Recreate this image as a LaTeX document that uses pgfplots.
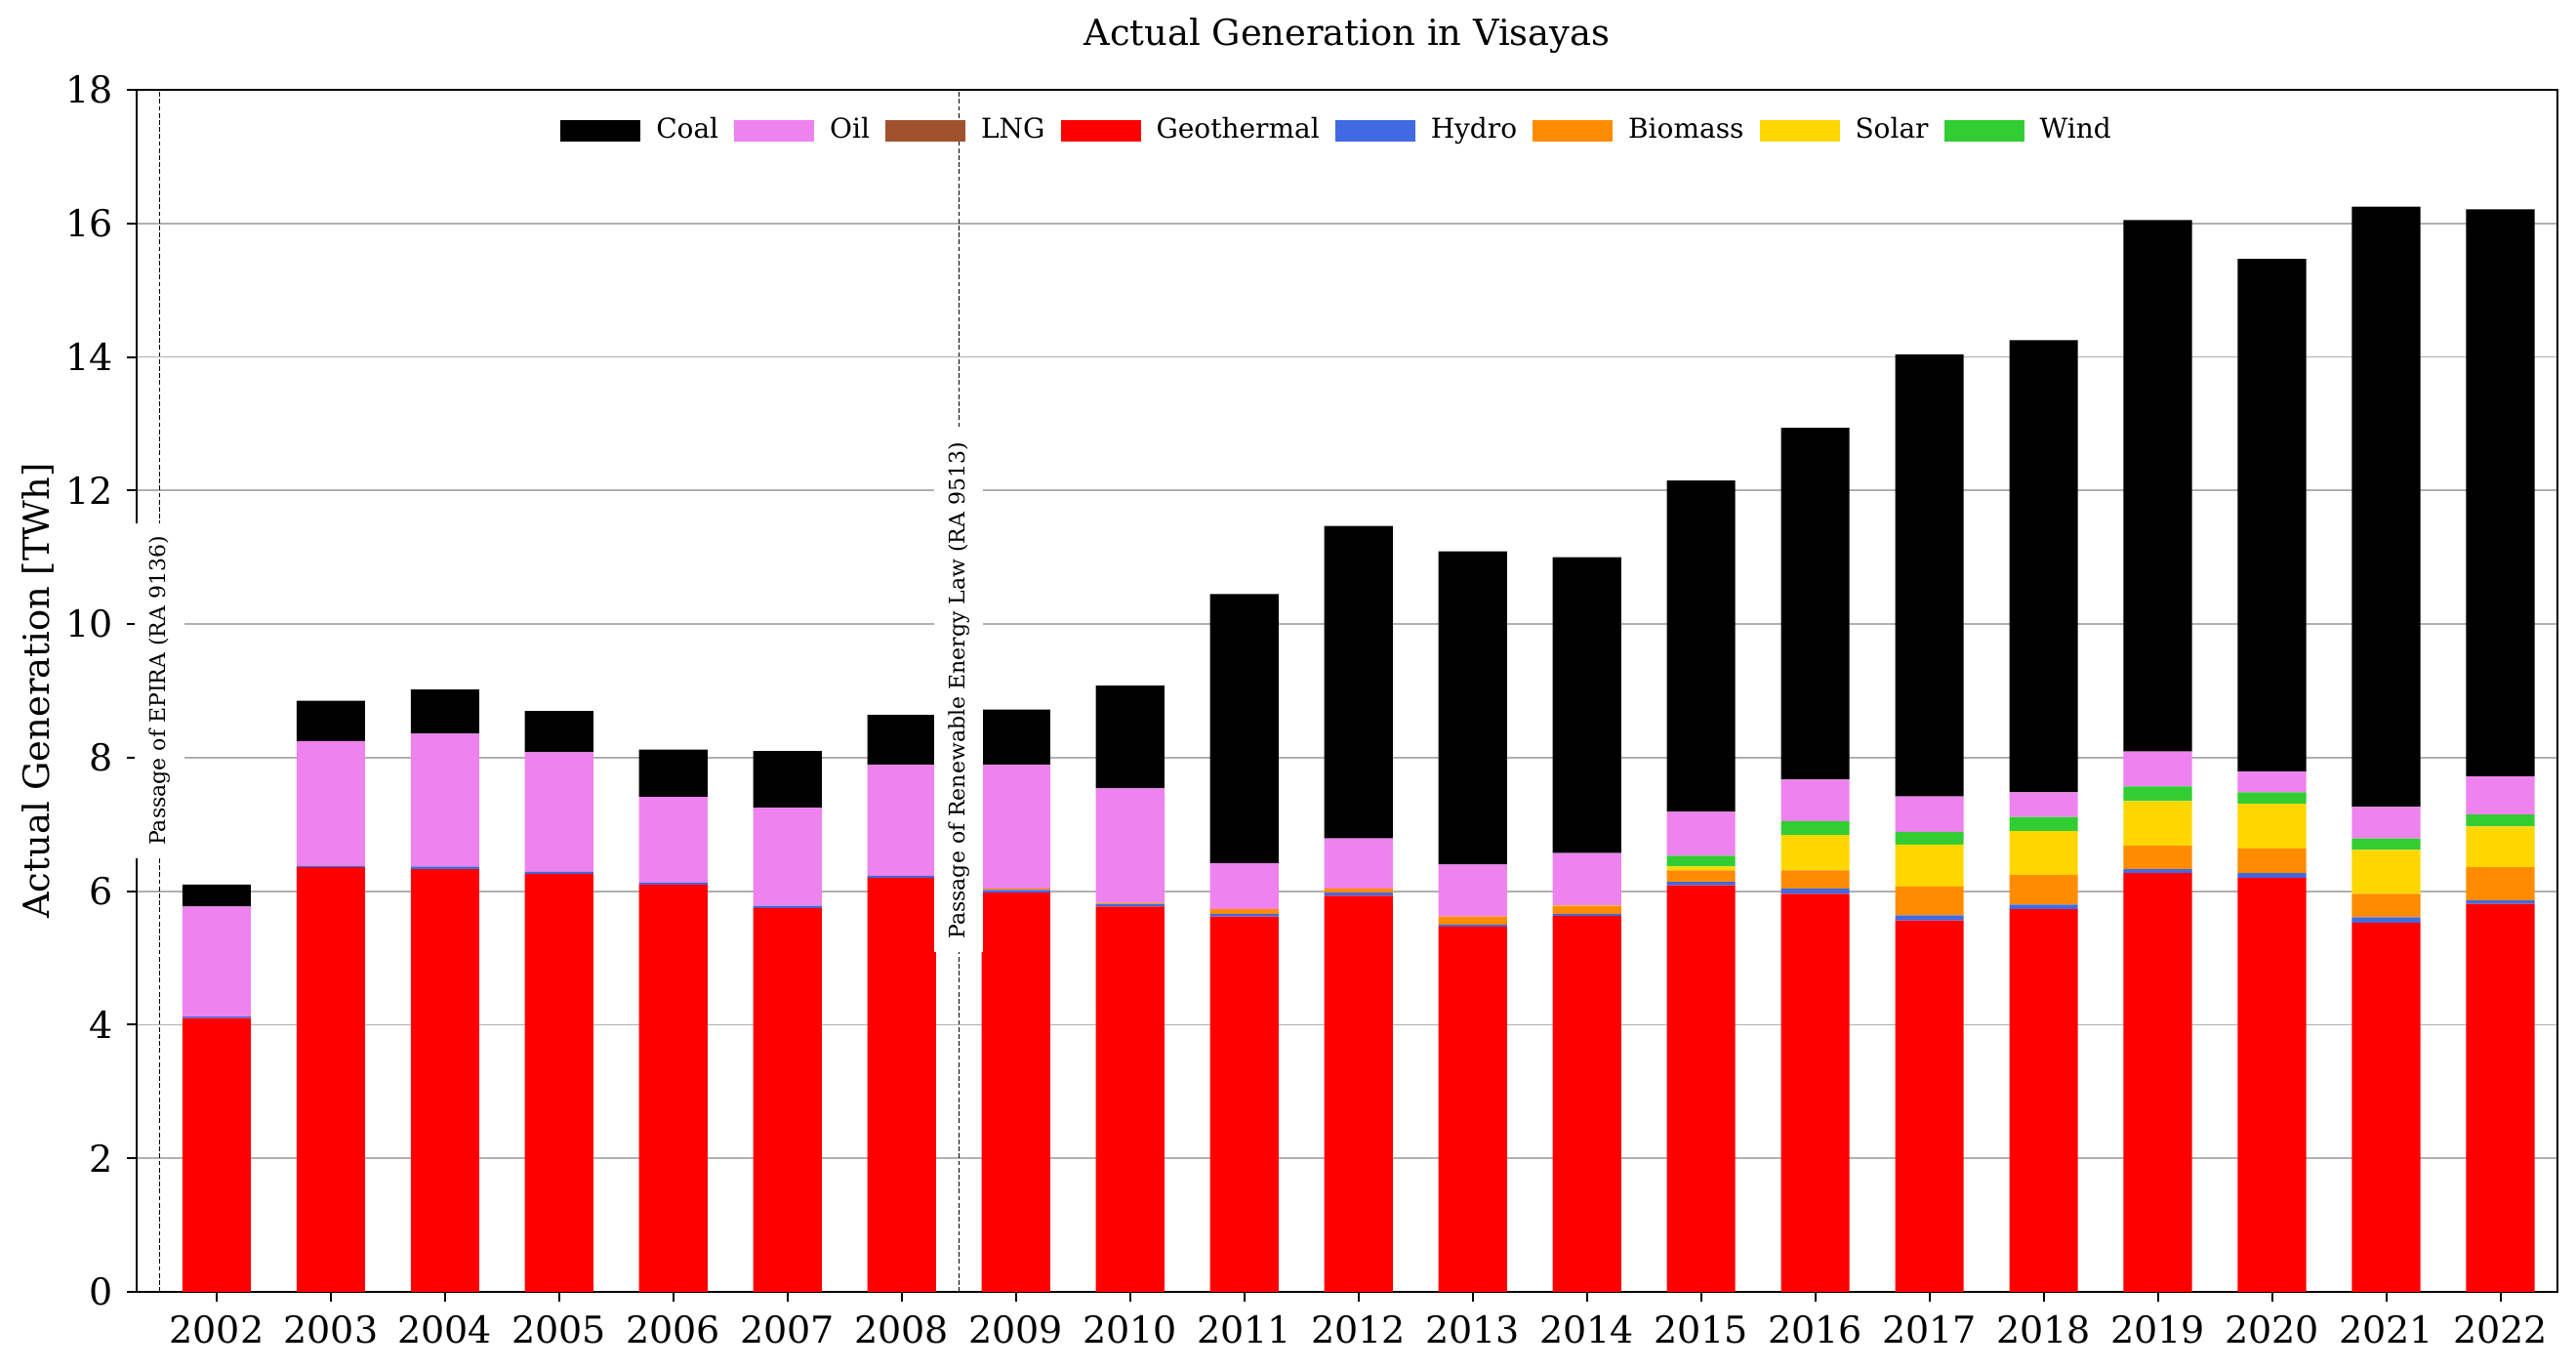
\documentclass[border=0pt]{standalone}
\usepackage{fontspec}
\setmainfont{DejaVu Serif}
\usepackage{pgfplots}
\usepackage{pgfplotstable}
\pgfplotsset{compat=1.18}

\definecolor{cCoal}{HTML}{000000}
\definecolor{cOil}{HTML}{EE82EE}
\definecolor{cLNG}{HTML}{A0522D}
\definecolor{cGeo}{HTML}{FF0000}
\definecolor{cHydro}{HTML}{4169E1}
\definecolor{cBio}{HTML}{FF8C00}
\definecolor{cSolar}{HTML}{FFD700}
\definecolor{cWind}{HTML}{32CD32}
\definecolor{cGrid}{HTML}{B0B0B0}

\pgfplotstableread{
x  geo   hydro bio  solar wind oil  coal
0  4.10  0.02  0    0     0    1.65 0.33
1  6.36  0.02  0    0     0    1.87 0.60
2  6.33  0.04  0    0     0    1.99 0.66
3  6.26  0.03  0    0     0    1.79 0.62
4  6.10  0.03  0    0     0    1.28 0.71
5  5.75  0.03  0    0     0    1.47 0.85
6  6.20  0.03  0    0     0    1.66 0.75
7  5.98  0.04  0.02 0     0    1.85 0.83
8  5.77  0.04  0.02 0     0    1.71 1.54
9  5.62  0.04  0.07 0     0    0.69 4.03
10 5.93  0.05  0.06 0     0    0.75 4.68
11 5.47  0.03  0.12 0     0    0.78 4.69
12 5.63  0.03  0.12 0.01  0    0.78 4.43
13 6.09  0.05  0.17 0.06  0.16 0.66 4.96
14 5.96  0.08  0.27 0.53  0.21 0.62 5.27
15 5.56  0.08  0.43 0.63  0.19 0.53 6.62
16 5.73  0.07  0.44 0.66  0.21 0.37 6.77
17 6.27  0.06  0.35 0.67  0.22 0.52 7.96
18 6.20  0.07  0.37 0.67  0.17 0.31 7.68
19 5.53  0.08  0.35 0.66  0.17 0.47 8.99
20 5.81  0.05  0.50 0.61  0.18 0.57 8.49
}\gen

\pgfplotsset{lgbox/.style={legend image code/.code={\fill[##1] (0pt,-2.7pt) rectangle (20.5pt,2.7pt);}}}

\begin{document}
\begin{tikzpicture}
\useasboundingbox (-35pt,-20pt) rectangle (624.75pt,330.75pt);
\begin{axis}[
  scale only axis,
  width=620pt, height=307.75pt,
  clip=false,
  ybar stacked,
  bar width=0.6,
  xmin=-0.7, xmax=20.5,
  ymin=0, ymax=18,
  xtick={0,...,20},
  xticklabels={2002,2003,2004,2005,2006,2007,2008,2009,2010,2011,2012,2013,2014,2015,2016,2017,2018,2019,2020,2021,2022},
  ytick={0,2,...,18},
  /pgf/number format/assume math mode=true,
  tick pos=left,
  tick align=outside,
  major tick length=2.5pt,
  tick style={black, line width=0.5pt},
  axis line style={line width=0.6pt},
  ymajorgrids,
  major grid style={cGrid, line width=0.45pt},
  tick label style={font=\fontsize{9.5}{11}\selectfont},
  ylabel={Actual Generation [TWh]},
  ylabel style={font=\fontsize{9.2}{11}\selectfont, at={(axis description cs:-0.0407,0.5)}, anchor=center},
  legend columns=8,
  legend style={draw=none, fill=none, at={(0.497,0.9659)}, anchor=center,
    font=\fontsize{7}{8}\selectfont,
    nodes={inner xsep=2pt, inner ysep=1pt},
    /tikz/every even column/.append style={column sep=2pt},
    /tikz/every odd column/.append style={column sep=2pt}},
]
\addlegendimage{draw=none, fill=cCoal, lgbox}
\addlegendimage{draw=none, fill=cOil, lgbox}
\addlegendimage{draw=none, fill=cLNG, lgbox}
\addlegendimage{draw=none, fill=cGeo, lgbox}
\addlegendimage{draw=none, fill=cHydro, lgbox}
\addlegendimage{draw=none, fill=cBio, lgbox}
\addlegendimage{draw=none, fill=cSolar, lgbox}
\addlegendimage{draw=none, fill=cWind, lgbox}
\legend{Coal,Oil,LNG,Geothermal,Hydro,Biomass,Solar,Wind}

\addplot[draw=none, fill=cGeo] table[x=x, y=geo] {\gen};
\addplot[draw=none, fill=cHydro] table[x=x, y=hydro] {\gen};
\addplot[draw=none, fill=cBio] table[x=x, y=bio] {\gen};
\addplot[draw=none, fill=cSolar] table[x=x, y=solar] {\gen};
\addplot[draw=none, fill=cWind] table[x=x, y=wind] {\gen};
\addplot[draw=none, fill=cOil] table[x=x, y=oil] {\gen};
\addplot[draw=none, fill=cCoal] table[x=x, y=coal] {\gen};

\draw[black, line width=0.3pt, dash pattern=on 1.2pt off 0.6pt] (axis cs:-0.5,0) -- (axis cs:-0.5,18);
\draw[black, line width=0.3pt, dash pattern=on 1.2pt off 0.6pt] (axis cs:6.5,0) -- (axis cs:6.5,18);
\coordinate (epira) at (axis cs:-0.5,9);
\coordinate (relaw) at (axis cs:6.5,9);
\coordinate (ttl) at (rel axis cs:0.5,1.0447);
\end{axis}
\node[rotate=90, fill=white, inner xsep=3.4pt, inner ysep=3.6pt, font=\fontsize{5.5}{7}\selectfont] at (epira) {Passage of EPIRA (RA 9136)};
\node[rotate=90, fill=white, inner xsep=3.4pt, inner ysep=3.6pt, font=\fontsize{5.5}{7}\selectfont] at (relaw) {Passage of Renewable Energy Law (RA 9513)};
\node[anchor=center, font=\fontsize{9.2}{11}\selectfont] at (ttl) {Actual Generation in Visayas};
\end{tikzpicture}
\end{document}
